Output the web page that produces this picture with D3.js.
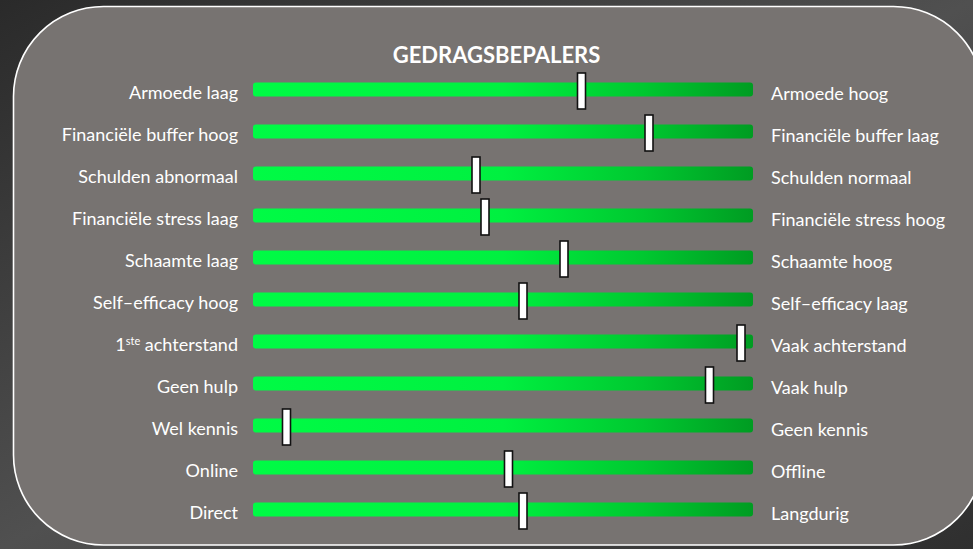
<!DOCTYPE html>
<html>
<head>
<meta charset="utf-8">
<script src="https://cdn.jsdelivr.net/npm/d3@7"></script>
<style>
  html, body { margin: 0; padding: 0; background: #3b3b3b; }
  svg { display: block; }
  text { font-family: Lato, "Open Sans", sans-serif; fill: #ffffff; }
</style>
</head>
<body>
<svg id="chart" width="973" height="549"></svg>
<script>
// left / right pole of each scale and where the marker sits (0 = left, 100 = right)
var leftLabels = ["Armoede laag", "Financiële buffer hoog", "Schulden abnormaal", "Financiële stress laag",
                  "Schaamte laag", "Self\u2013efficacy hoog", "1ste achterstand", "Geen hulp", "Wel kennis",
                  "Online", "Direct"];
var rightLabels = ["Armoede hoog", "Financiële buffer laag", "Schulden normaal", "Financiële stress hoog",
                   "Schaamte hoog", "Self\u2013efficacy laag", "Vaak achterstand", "Vaak hulp", "Geen kennis",
                   "Offline", "Langdurig"];
var markerValues = [65.7, 79.2, 44.6, 46.4, 62.2, 54.0, 97.6, 91.3, 6.7, 51.1, 54.0];
var title = "GEDRAGSBEPALERS";

var svg = d3.select("#chart"),
    width = +svg.attr("width"),
    height = +svg.attr("height");

var defs = svg.append("defs");

// backdrop (stand-in for the photo behind the panel)
var bg = defs.append("linearGradient").attr("id", "bg").attr("x1", 0).attr("x2", 1).attr("y1", 0).attr("y2", 1);
bg.append("stop").attr("offset", 0).attr("stop-color", "#2a2a2a");
bg.append("stop").attr("offset", 0.5).attr("stop-color", "#505050");
bg.append("stop").attr("offset", 1).attr("stop-color", "#2f2f2f");
svg.append("rect").attr("width", width).attr("height", height).attr("fill", "url(#bg)");

// green bar gradient
var grad = defs.append("linearGradient").attr("id", "barGrad").attr("x1", 0).attr("x2", 1).attr("y1", 0).attr("y2", 0);
grad.append("stop").attr("offset", 0).attr("stop-color", "#00fb45");
grad.append("stop").attr("offset", 0.5).attr("stop-color", "#00f040");
grad.append("stop").attr("offset", 0.78).attr("stop-color", "#00c830");
grad.append("stop").attr("offset", 1).attr("stop-color", "#009c22");

// panel
svg.append("rect")
    .attr("x", 13.5).attr("y", 6.5)
    .attr("width", 970).attr("height", 538.5)
    .attr("rx", 90).attr("ry", 90)
    .attr("fill", "#777371")
    .attr("stroke", "#ffffff")
    .attr("stroke-width", 1.6);

svg.append("text")
    .attr("x", 496.5).attr("y", 63)
    .attr("text-anchor", "middle")
    .style("font-weight", "bold")
    .style("font-size", "22px")
    .text(title);

var x = d3.scaleLinear().domain([0, 100]).range([253, 753]);
var y = d3.scalePoint().domain(d3.range(leftLabels.length)).range([89.5, 509.5]);

var barH = 14, markW = 8, markH = 36;

var rows = svg.append("g").selectAll("g")
    .data(leftLabels.map(function(d, i) {
        return { left: d, right: rightLabels[i], value: markerValues[i], i: i };
    }))
    .enter().append("g")
    .attr("transform", function(d) { return "translate(0," + y(d.i) + ")"; });

rows.append("rect")
    .attr("x", x(0)).attr("y", -barH / 2)
    .attr("width", x(100) - x(0)).attr("height", barH)
    .attr("rx", 3)
    .attr("fill", "url(#barGrad)");

rows.append("rect")
    .attr("x", function(d) { return x(d.value) - markW / 2; })
    .attr("y", -markH / 2 + 1.5)
    .attr("width", markW).attr("height", markH)
    .attr("fill", "#ffffff")
    .attr("stroke", "#111111")
    .attr("stroke-width", 1.6);

var leftText = rows.append("text")
    .attr("x", 238).attr("y", 9)
    .attr("text-anchor", "end")
    .style("font-size", "18px");

leftText.each(function(d) {
    var t = d3.select(this);
    if (d.left.indexOf("1ste") === 0) {
        t.append("tspan").text("1");
        t.append("tspan").attr("dy", -6).style("font-size", "11px").text("ste");
        t.append("tspan").attr("dy", 6).text(" achterstand");
    } else {
        t.text(d.left);
    }
});

rows.append("text")
    .attr("x", 771).attr("y", 10)
    .style("font-size", "18px")
    .text(function(d) { return d.right; });
</script>
</body>
</html>
